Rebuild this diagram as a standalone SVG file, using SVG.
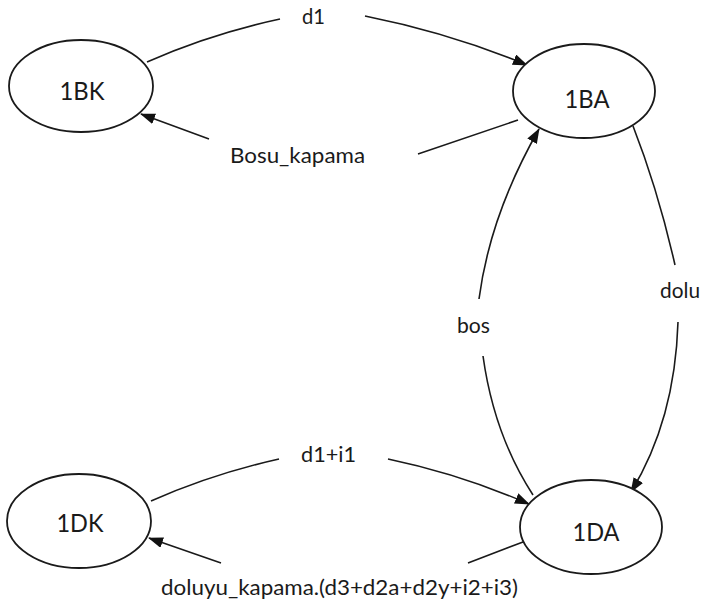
<svg xmlns="http://www.w3.org/2000/svg" width="702" height="605" viewBox="0 0 702 605">
<style>
.node{fill:#fff;stroke:#1a1a1a;stroke-width:1.8}
.nl{font-family:Lato,"Liberation Sans",sans-serif;font-size:25px;fill:#1a1a1a;text-anchor:middle}
.el{font-family:Lato,"Liberation Sans",sans-serif;font-size:21px;fill:#1a1a1a}
.edge{fill:none;stroke:#1a1a1a;stroke-width:1.6}
</style>
<defs>
<marker id="ah" markerUnits="userSpaceOnUse" markerWidth="16" markerHeight="12" refX="14" refY="5.5" orient="auto">
<path d="M0,0 L15,5.5 L0,11 z" fill="#111"/>
</marker>
</defs>
<g id="connectors">
<path class="edge" d="M147,62 Q210,34 280,19 M365,16 Q450,33 527,65" marker-end="url(#ah)"/>
<path class="edge" d="M518,120 L418,154 M209,139 L141,114" marker-end="url(#ah)"/>
<path class="edge" d="M533,495 Q494,435 483,356 M479,299 Q490,215 539,129" marker-end="url(#ah)"/>
<path class="edge" d="M633,126 Q658,190 675,265 M678,322 Q675,420 631,492" marker-end="url(#ah)"/>
<path class="edge" d="M151,501 Q212,474 279,459 M388,459 Q460,474 529,504" marker-end="url(#ah)"/>
<path class="edge" d="M523,542 L468,563 M221,563 L149,538" marker-end="url(#ah)"/>
</g>
<g id="edge-labels">
<text class="el" x="302" y="24" textLength="23" lengthAdjust="spacingAndGlyphs">d1</text>
<text class="el" x="230" y="163" textLength="135" lengthAdjust="spacingAndGlyphs">Bosu_kapama</text>
<text class="el" x="457" y="333" textLength="33" lengthAdjust="spacingAndGlyphs">bos</text>
<text class="el" x="660" y="298" textLength="40" lengthAdjust="spacingAndGlyphs">dolu</text>
<text class="el" x="301" y="462" textLength="55" lengthAdjust="spacingAndGlyphs">d1+i1</text>
<text class="el" x="161" y="595" textLength="357" lengthAdjust="spacingAndGlyphs">doluyu_kapama.(d3+d2a+d2y+i2+i3)</text>
</g>
<g id="n1BK">
<ellipse class="node" cx="81" cy="86" rx="72" ry="46"/>
<text class="nl" x="82" y="100" textLength="45" lengthAdjust="spacingAndGlyphs">1BK</text>
</g>
<g id="n1BA">
<ellipse class="node" cx="584" cy="91" rx="71" ry="47"/>
<text class="nl" x="587" y="108" textLength="45" lengthAdjust="spacingAndGlyphs">1BA</text>
</g>
<g id="n1DK">
<ellipse class="node" cx="79" cy="521" rx="72" ry="47"/>
<text class="nl" x="80" y="532" textLength="47" lengthAdjust="spacingAndGlyphs">1DK</text>
</g>
<g id="n1DA">
<ellipse class="node" cx="591" cy="527" rx="71" ry="47"/>
<text class="nl" x="596" y="541" textLength="47" lengthAdjust="spacingAndGlyphs">1DA</text>
</g>
</svg>
